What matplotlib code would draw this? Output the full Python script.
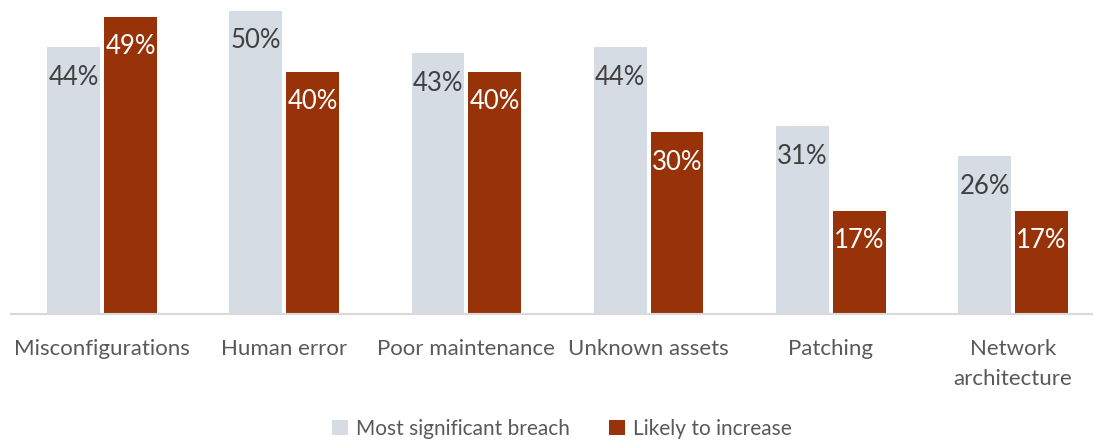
import matplotlib.pyplot as plt
import numpy as np

plt.rcParams['font.family'] = ['Lato', 'DejaVu Sans']

categories = ["Misconfigurations", "Human error", "Poor maintenance",
              "Unknown assets", "Patching", "Network\narchitecture"]
most_significant = [44, 50, 43, 44, 31, 26]
likely_increase = [49, 40, 40, 30, 17, 17]

gray = "#D6DCE4"
red = "#983309"

fig = plt.figure(figsize=(10.96, 4.41), dpi=100)
ax = fig.add_axes([11 / 1096, 1 - 314 / 441, 1081 / 1096, 314 / 441])

x = np.arange(len(categories))
w = 0.29
off = 0.156
b1 = ax.bar(x - off, most_significant, w, color=gray, label="Most significant breach")
b2 = ax.bar(x + off, likely_increase, w, color=red, label="Likely to increase")

# value labels sit just inside the top of each bar
for rect, v in zip(b1, most_significant):
    ax.annotate(f"{v}%", (rect.get_x() + rect.get_width() / 2, v),
                xytext=(0, -30), textcoords="offset pixels",
                ha="center", va="center", fontsize=18.5, color="#404040")
for rect, v in zip(b2, likely_increase):
    ax.annotate(f"{v}%", (rect.get_x() + rect.get_width() / 2, v),
                xytext=(0, -30), textcoords="offset pixels",
                ha="center", va="center", fontsize=18.5, color="white")

ax.set_xlim(-0.5, 5.434)
ax.set_ylim(0, 51.8)
ax.set_yticks([])
ax.set_xticks(x)
ax.set_xticklabels(categories, fontsize=16, color="#595959", linespacing=1.6, va="top")
ax.tick_params(axis="x", length=0, pad=18)
for s in ["top", "right", "left"]:
    ax.spines[s].set_visible(False)
ax.spines["bottom"].set_color("#D9D9D9")
ax.spines["bottom"].set_linewidth(1.5)

fig.legend(loc="center", bbox_to_anchor=(562 / 1096, 1 - 429 / 441), ncol=2,
           frameon=False, fontsize=15, labelcolor="#595959",
           handlelength=0.75, handleheight=0.75, handletextpad=0.4, columnspacing=1.9)

fig.savefig("out.png", dpi=100)
